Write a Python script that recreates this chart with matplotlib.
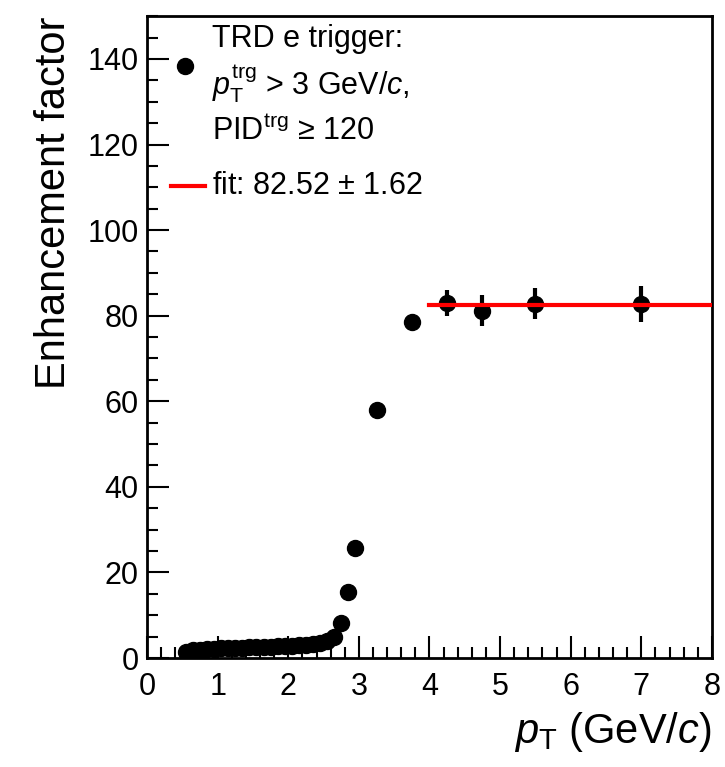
"""Enhancement factor of the TRD electron trigger vs pT."""
import numpy as np
import matplotlib
matplotlib.use("Agg")
import matplotlib.pyplot as plt
from matplotlib.ticker import MultipleLocator

plt.rcParams["font.family"] = ["Liberation Sans", "DejaVu Sans"]
plt.rcParams["mathtext.fontset"] = "custom"
plt.rcParams["mathtext.rm"] = "Liberation Sans"
plt.rcParams["mathtext.it"] = "Liberation Sans:italic"
plt.rcParams["mathtext.default"] = "regular"

# data
pt = [0.55, 0.65, 0.75, 0.85, 0.95, 1.05, 1.15, 1.25, 1.35, 1.45,
      1.55, 1.65, 1.75, 1.85, 1.95, 2.05, 2.15, 2.25, 2.35, 2.45,
      2.55, 2.65, 2.75, 2.85, 2.95, 3.25, 3.75, 4.25, 4.75, 5.5, 7.0]
enh = [1.5, 1.8, 2.0, 2.1, 2.2, 2.3, 2.3, 2.4, 2.4, 2.5,
       2.6, 2.6, 2.7, 2.8, 2.8, 2.9, 3.0, 3.1, 3.3, 3.6,
       4.0, 4.9, 8.2, 15.5, 25.8, 58.0, 78.5, 83.0, 81.2, 82.8, 82.8]
enh_err = [0.1] * 25 + [0.8, 1.4, 3.0, 3.6, 3.6, 4.2]
fit_val = 82.52
fit_range = [4.0, 8.0]

fig = plt.figure(figsize=(7.25, 7.67), dpi=100)
ax = fig.add_axes([0.2028, 0.142, 0.7792, 0.837])

ax.errorbar(pt, enh, yerr=enh_err, fmt="o", color="black", ms=11.5,
            elinewidth=3, capsize=0, zorder=3)
ax.plot(fit_range, [fit_val, fit_val], color="#ff0000", lw=3, zorder=4)

ax.set_xlim(0, 8)
ax.set_ylim(0, 150)
ax.xaxis.set_major_locator(MultipleLocator(1))
ax.xaxis.set_minor_locator(MultipleLocator(0.2))
ax.yaxis.set_major_locator(MultipleLocator(20))
ax.yaxis.set_minor_locator(MultipleLocator(5))
ax.tick_params(which="both", direction="in", labelsize=22, width=1.5,
               top=False, right=False)
ax.tick_params(which="major", length=16, pad=6)
ax.tick_params(axis="x", which="major", pad=10)
ax.tick_params(which="minor", length=8)
for s in ax.spines.values():
    s.set_linewidth(2)

ax.set_xlabel(r"$\it{p}_{\rm T}$ (GeV/$\it{c}$)", fontsize=30,
              loc="right", labelpad=6)
ax.set_ylabel("Enhancement factor", fontsize=30, loc="top", labelpad=10)

# legend drawn by hand, ROOT style
tr = ax.transAxes
ax.plot([0.068], [0.923], "o", color="black", ms=11.5, transform=tr, clip_on=False)
ax.plot([0.043, 0.102], [0.735, 0.735], color="#ff0000", lw=3, transform=tr)
kw = dict(transform=tr, fontsize=22, va="center", ha="left")
ax.text(0.115, 0.965, "TRD e trigger:", **kw)
ax.text(0.115, 0.895, r"$\it{p}_{\rm T}^{\rm trg}$ > 3 GeV/$\it{c}$,", **kw)
ax.text(0.115, 0.820, r"PID$^{\rm trg}$ ≥ 120", **kw)
ax.text(0.115, 0.735, r"fit: 82.52 $\pm$ 1.62", **kw)

fig.savefig("out.png", dpi=100)
